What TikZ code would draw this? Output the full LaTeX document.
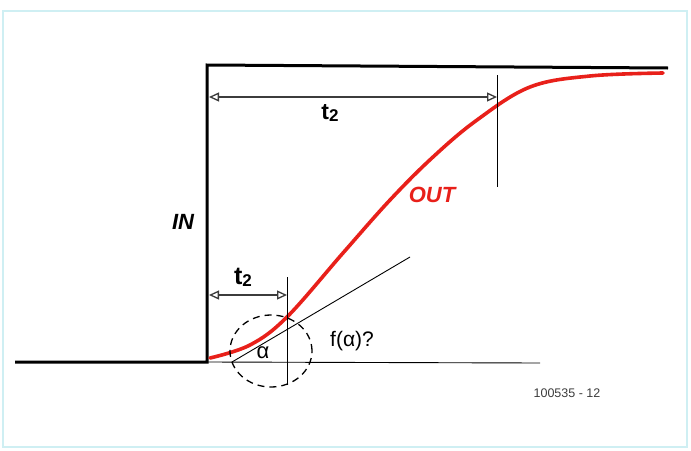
\documentclass[tikz,border=0pt]{standalone}
\usepackage{fontspec}
\setmainfont{Liberation Sans}
\usetikzlibrary{positioning, arrows.meta}
\definecolor{OutRed}{HTML}{E8201A}
\definecolor{FrameCyan}{HTML}{CFEFF3}
\definecolor{DimGray}{HTML}{3C3C3C}
\newcommand{\tsub}{{\bfseries t\raisebox{-2pt}{\fontsize{17}{17}\selectfont 2}}}

\begin{document}
\begin{tikzpicture}[x=1pt, y=-1pt,
    dim/.style={DimGray, line width=1.2pt, {Triangle[open, length=10pt, width=9pt, line width=1.3pt]}-{Triangle[open, length=10pt, width=9pt, line width=1.3pt]}},
    guide/.style={black, line width=0.9pt},
    lbl/.style={font=\fontsize{23}{23}\selectfont, inner sep=0pt}]
  \useasboundingbox (0,0) rectangle (691,450);
  % Frame
  \draw[FrameCyan, line width=1.5pt] (3,11) rectangle (687,447);
  % Input step
  \draw[black, line width=3pt, line join=miter] (15,362) -- (207,362) -- (207,65) -- (668,68);
  \node[lbl, font=\fontsize{22}{22}\selectfont\bfseries\itshape] (in) at (183,222) {IN};
  % Time axis and tangent
  \draw[guide] (207,362) -- (540,363);
  \coordinate (tanA) at (232,362);
  \coordinate (tanB) at (410,257);
  \draw[guide] (tanA) -- (tanB);
  % Output response
  \draw[OutRed, line width=3.6pt, line cap=round] plot[smooth, tension=0.6] coordinates {
    (210,358) (250,345) (287,317) (343,253) (390,200) (433,157) (477,120) (530,87) (590,76) (663,73)};
  \node[lbl, OutRed, font=\fontsize{22}{22}\selectfont\bfseries\itshape] (out) at (432,195) {OUT};
  % Markers
  \coordinate (mkA) at (497,75);
  \coordinate (mkB) at (497,187);
  \draw[guide] (mkA) -- (mkB);
  \coordinate (mkC) at (287,277);
  \coordinate (mkD) at (287,385);
  \draw[guide] (mkC) -- (mkD);
  % Dimension arrows
  \coordinate (dimA) at (209,97);
  \coordinate (dimB) at (497,97);
  \draw[dim] (dimA) -- (dimB);
  \node[lbl] (tlong) at (330,113) {\tsub};
  \coordinate (dimC) at (209,295);
  \coordinate (dimD) at (287,295);
  \draw[dim] (dimC) -- (dimD);
  \node[lbl, font=\fontsize{25}{25}\selectfont] (tshort) at (243,277) {\tsub};
  % Angle
  \draw[black, line width=1.3pt, dash pattern=on 7pt off 5pt] (271,351) ellipse (41pt and 36pt);
  \node[lbl, font=\fontsize{22}{22}\selectfont] (alpha) at (263,353) {α};
  \node[lbl, font=\fontsize{21}{21}\selectfont] (fa) at (352,341) {f(α)?};
  % Figure number
  \node[lbl, font=\fontsize{12.5}{12.5}\selectfont, DimGray] (num) at (567,393) {100535 - 12};
\end{tikzpicture}
\end{document}
